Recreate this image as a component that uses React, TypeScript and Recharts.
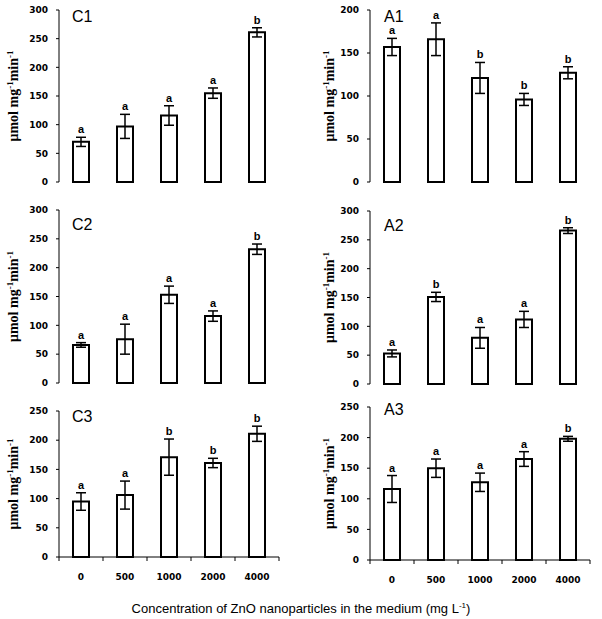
import { Bar, BarChart, ErrorBar, LabelList, XAxis, YAxis } from "recharts";

const concentrations = ["0", "500", "1000", "2000", "4000"];

const c1Values = [70, 97, 116, 155, 261];
const c1Errors = [8, 21, 17, 9, 8];
const c1Letters = ["a", "a", "a", "a", "b"];

const a1Values = [157, 166, 121, 96, 127];
const a1Errors = [10, 19, 18, 7, 7];
const a1Letters = ["a", "a", "b", "b", "b"];

const c2Values = [66, 76, 153, 116, 232];
const c2Errors = [4, 26, 15, 9, 9];
const c2Letters = ["a", "a", "a", "a", "b"];

const a2Values = [53, 151, 80, 112, 266];
const a2Errors = [6, 8, 18, 14, 5];
const a2Letters = ["a", "b", "a", "a", "b"];

const c3Values = [95, 106, 171, 161, 211];
const c3Errors = [15, 24, 31, 8, 13];
const c3Letters = ["a", "a", "b", "b", "b"];

const a3Values = [116, 150, 127, 165, 198];
const a3Errors = [22, 15, 15, 12, 4];
const a3Letters = ["a", "a", "a", "a", "b"];

const ticks300 = [0, 50, 100, 150, 200, 250, 300];
const ticks250 = [0, 50, 100, 150, 200, 250];
const ticks200 = [0, 50, 100, 150, 200];

const xTitle = "Concentration of ZnO nanoparticles in the medium (mg  L";

type Row = { conc: string; value: number; err: number; letter: string };

function buildRows(values: number[], errors: number[], letters: string[]): Row[] {
  return concentrations.map((conc, i) => ({
    conc,
    value: values[i],
    err: errors[i],
    letter: letters[i]
  }));
}

const tickFont = { fontFamily: "DejaVu Sans", fontWeight: "bold" as const, fontSize: 9, fill: "#000" };

function ConcTick(props: any) {
  const { x, y, payload, index, visibleTicksCount, width } = props;
  const half = payload?.offset ?? Number(width) / visibleTicksCount / 2;
  const isLast = index === visibleTicksCount - 1;
  return (
    <g>
      <line x1={x - half} x2={x - half} y1={y} y2={y + 4} stroke="#000" />
      {isLast && <line x1={x + half} x2={x + half} y1={y} y2={y + 4} stroke="#000" />}
      <text x={x} y={y + 23} textAnchor="middle" {...tickFont}>
        {payload.value}
      </text>
    </g>
  );
}

function makeYLabel(labelX: number) {
  return (props: any) => {
    const vb = props.viewBox || {};
    const cy = Number(vb.y) + Number(vb.height) / 2;
    return (
      <text
        x={labelX}
        y={cy}
        transform={`rotate(-90 ${labelX} ${cy})`}
        textAnchor="middle"
        fontFamily="Liberation Serif"
        fontWeight="bold"
        fontSize={14}
        fill="#000"
      >
        μmol mg
        <tspan dy={-5} fontSize={9}>-1</tspan>
        <tspan dy={5}>min</tspan>
        <tspan dy={-5} fontSize={9}>-1</tspan>
      </text>
    );
  };
}

function makeLetter(rows: Row[]) {
  return (props: any) => {
    const { x, y, width, height, index, value } = props;
    const row = rows[index];
    if (!row) return null;
    const perUnit = row.value ? Number(height) / row.value : 0;
    const top = Number(y) - row.err * perUnit;
    return (
      <text
        x={Number(x) + Number(width) / 2}
        y={top - 4}
        textAnchor="middle"
        fontFamily="Liberation Sans"
        fontWeight="bold"
        fontSize={11}
        fill="#000"
      >
        {value}
      </text>
    );
  };
}

type PanelProps = {
  rows: Row[];
  ticks: number[];
  left: number;
  plotTop: number;
  plotHeight: number;
  showX: boolean;
  labelX: number;
};

function Panel({ rows, ticks, left, plotTop, plotHeight, showX, labelX }: PanelProps) {
  const xHeight = showX ? 30 : 0;
  const bottom = showX ? 0 : 8;
  return (
    <div style={{ position: "absolute", left, top: plotTop - 10 }}>
      <BarChart
        width={290}
        height={10 + plotHeight + xHeight + bottom}
        data={rows}
        margin={{ top: 10, right: 11, bottom, left: 0 }}
        barSize={16}
      >
        <XAxis
          dataKey="conc"
          hide={!showX}
          height={xHeight}
          interval={0}
          axisLine={{ stroke: "#000" }}
          tickLine={false}
          tickSize={0}
          tickMargin={0}
          tick={(p: any) => <ConcTick {...p} />}
        />
        <YAxis
          width={59}
          domain={[0, ticks[ticks.length - 1]]}
          ticks={ticks}
          interval={0}
          tickSize={3}
          tickMargin={8}
          axisLine={{ stroke: "#000" }}
          tickLine={{ stroke: "#000" }}
          tick={tickFont}
          label={{ content: makeYLabel(labelX) }}
        />
        <Bar dataKey="value" fill="#fff" stroke="#000" strokeWidth={2} isAnimationActive={false}>
          <ErrorBar dataKey="err" width={5} stroke="#000" strokeWidth={1.5} direction="y" />
          <LabelList dataKey="letter" content={makeLetter(rows)} />
        </Bar>
      </BarChart>
    </div>
  );
}

const titleFont = { fontFamily: "Liberation Sans", fontSize: 16, fill: "#000" };

export default function App() {
  return (
    <div
      style={{
        position: "absolute",
        left: 0,
        top: 0,
        width: 602,
        height: 619,
        background: "#fff",
        overflow: "hidden"
      }}
    >
      <Panel rows={buildRows(c1Values, c1Errors, c1Letters)} ticks={ticks300} left={0} plotTop={10} plotHeight={172} showX={false} labelX={18} />
      <Panel rows={buildRows(a1Values, a1Errors, a1Letters)} ticks={ticks200} left={311} plotTop={10} plotHeight={172} showX={false} labelX={23} />
      <Panel rows={buildRows(c2Values, c2Errors, c2Letters)} ticks={ticks300} left={0} plotTop={210} plotHeight={173} showX={false} labelX={18} />
      <Panel rows={buildRows(a2Values, a2Errors, a2Letters)} ticks={ticks300} left={311} plotTop={211} plotHeight={173} showX={false} labelX={23} />
      <Panel rows={buildRows(c3Values, c3Errors, c3Letters)} ticks={ticks250} left={0} plotTop={411} plotHeight={146} showX={true} labelX={18} />
      <Panel rows={buildRows(a3Values, a3Errors, a3Letters)} ticks={ticks250} left={311} plotTop={407} plotHeight={153} showX={true} labelX={23} />
      <svg width={602} height={619} style={{ position: "absolute", left: 0, top: 0, pointerEvents: "none" }}>
        <text x={72} y={22} {...titleFont}>C1</text>
        <text x={384} y={22} {...titleFont}>A1</text>
        <text x={72} y={230} {...titleFont}>C2</text>
        <text x={384} y={231} {...titleFont}>A2</text>
        <text x={72} y={422} {...titleFont}>C3</text>
        <text x={384} y={415} {...titleFont}>A3</text>
        <text x={301} y={613} textAnchor="middle" fontFamily="Liberation Sans" fontSize={13} fill="#000">
          {xTitle}
          <tspan dy={-5} fontSize={8}>-1</tspan>
          <tspan dy={5}>)</tspan>
        </text>
      </svg>
    </div>
  );
}
